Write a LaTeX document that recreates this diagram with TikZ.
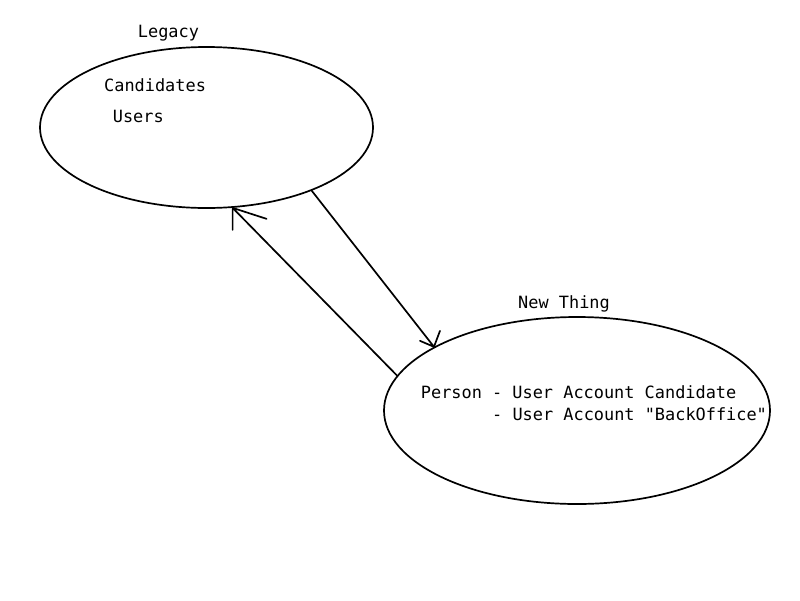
\documentclass[tikz,border=0pt]{standalone}
\usepackage{fontspec}
\setmonofont{DejaVu Sans Mono}
\usetikzlibrary{shapes.geometric}
\begin{document}
\begin{tikzpicture}[x=1pt,y=-1pt,
  every node/.style={font=\ttfamily\fontsize{16.9}{20}\selectfont},
  blob/.style={draw, ellipse, inner sep=0pt, line width=1.7pt},
  lbl/.style={inner sep=0pt, anchor=base west},
  link/.style={line width=1.7pt, line cap=round, line join=round}]
  \path[use as bounding box, fill=white] (0,0) rectangle (800,600);

  % the two systems
  \node[blob, minimum width=333pt, minimum height=161pt] (legacy) at (206.5,127.5) {};
  \node[blob, minimum width=386pt, minimum height=187pt] (newthing) at (577,410.5) {};

  % titles and contents
  \node[lbl] (legacyT) at (137.7,37.7) {Legacy};
  \node[lbl] (cand) at (104,91) {Candidates};
  \node[lbl] (users) at (112.7,122) {Users};
  \node[lbl] (newT) at (518,308) {New Thing};
  \node[lbl] (person) at (420.7,398) {Person - User Account Candidate};
  \node[lbl] (backoff) at (492,420) {- User Account "BackOffice"};

  % legacy -> new thing, hand-drawn open head
  \draw[link] (legacy.-31.8) -- (newthing.156.1) -- ++(-14,-6)
              (newthing.156.1) -- ++(6,-16);
  % new thing -> legacy
  \draw[link] (newthing.169.7) -- (legacy.-72.4) -- ++(0,22)
              (legacy.-72.4) -- ++(34,11);
\end{tikzpicture}
\end{document}
